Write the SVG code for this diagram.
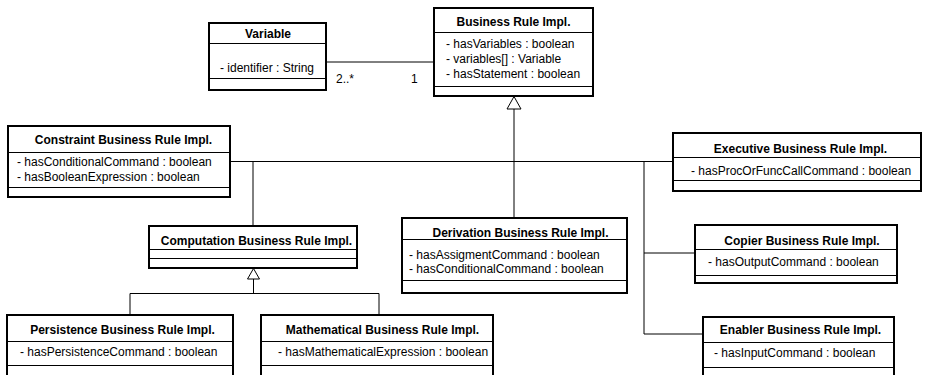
<svg xmlns="http://www.w3.org/2000/svg" width="926" height="375" viewBox="0 0 926 375">
  <style>
    .box { fill: #fff; stroke: #000; stroke-width: 2; }
    .sep { stroke: #000; stroke-width: 1; }
    .title { font-family: "Liberation Sans", Arial, sans-serif; font-size: 12px; font-weight: bold; fill: #000; text-anchor: middle; }
    .attr { font-family: "Liberation Sans", Arial, sans-serif; font-size: 12px; fill: #000; }
    .mult { font-family: "Liberation Sans", Arial, sans-serif; font-size: 12px; fill: #000; }
    .wire { fill: none; stroke: #000; stroke-width: 1; }
    .gen { fill: #fff; stroke: #000; stroke-width: 1; }
  </style>

  <!-- connectors: association and generalization tree -->
  <g id="connectors">
    <line class="wire" x1="326" y1="62" x2="434" y2="62"/>
    <text class="mult" x="336" y="83">2..*</text>
    <text class="mult" x="411" y="83">1</text>

    <!-- inheritance from Business Rule Impl. -->
    <line class="wire" x1="514" y1="109" x2="514" y2="161"/>
    <line class="wire" x1="230" y1="161.5" x2="673" y2="161.5"/>
    <line class="wire" x1="253" y1="161" x2="253" y2="226"/>
    <line class="wire" x1="514" y1="161" x2="514" y2="218"/>
    <polyline class="wire" points="644,161 644,334 703,334"/>
    <line class="wire" x1="644" y1="253" x2="695" y2="253"/>
    <polygon class="gen" points="514,96.5 507,109 521,109"/>

    <!-- inheritance from Computation Business Rule Impl. -->
    <line class="wire" x1="253.5" y1="279" x2="253.5" y2="293"/>
    <polyline class="wire" points="130,315 130,293.5 379,293.5 379,315"/>
    <polygon class="gen" points="253.5,268.5 247.5,279 259.5,279"/>
  </g>

  <g id="variable">
    <rect class="box" x="209" y="23" width="117" height="67"/>
    <line class="sep" x1="209" y1="43.5" x2="326" y2="43.5"/>
    <line class="sep" x1="209" y1="78.5" x2="326" y2="78.5"/>
    <text class="title" x="268" y="38">Variable</text>
    <text class="attr" x="220" y="72">- identifier : String</text>
  </g>

  <g id="business-rule">
    <rect class="box" x="434" y="8" width="159" height="88"/>
    <line class="sep" x1="434" y1="32.5" x2="593" y2="32.5"/>
    <line class="sep" x1="434" y1="86.5" x2="593" y2="86.5"/>
    <text class="title" x="513.5" y="26">Business Rule Impl.</text>
    <text class="attr" x="446" y="48">- hasVariables : boolean</text>
    <text class="attr" x="446" y="63">- variables[] : Variable</text>
    <text class="attr" x="446" y="78">- hasStatement : boolean</text>
  </g>

  <g id="constraint-rule">
    <rect class="box" x="8" y="126" width="222" height="71"/>
    <line class="sep" x1="8" y1="152.5" x2="230" y2="152.5"/>
    <line class="sep" x1="8" y1="187.5" x2="230" y2="187.5"/>
    <text class="title" x="123.5" y="144">Constraint Business Rule Impl.</text>
    <text class="attr" x="17" y="166">- hasConditionalCommand : boolean</text>
    <text class="attr" x="17" y="181">- hasBooleanExpression : boolean</text>
  </g>

  <g id="executive-rule">
    <rect class="box" x="673" y="133" width="248" height="58"/>
    <line class="sep" x1="673" y1="157.5" x2="921" y2="157.5"/>
    <line class="sep" x1="673" y1="180.5" x2="921" y2="180.5"/>
    <text class="title" x="800.5" y="153">Executive Business Rule Impl.</text>
    <text class="attr" x="691" y="175">- hasProcOrFuncCallCommand : boolean</text>
  </g>

  <g id="computation-rule">
    <rect class="box" x="149" y="226" width="208" height="42"/>
    <line class="sep" x1="149" y1="249.5" x2="357" y2="249.5"/>
    <line class="sep" x1="149" y1="258.5" x2="357" y2="258.5"/>
    <text class="title" x="256.5" y="245">Computation Business Rule Impl.</text>
  </g>

  <g id="derivation-rule">
    <rect class="box" x="402" y="218" width="225" height="75"/>
    <line class="sep" x1="402" y1="239.5" x2="627" y2="239.5"/>
    <line class="sep" x1="402" y1="280.5" x2="627" y2="280.5"/>
    <text class="title" x="520.5" y="237">Derivation Business Rule Impl.</text>
    <text class="attr" x="409" y="259">- hasAssigmentCommand : boolean</text>
    <text class="attr" x="409" y="273">- hasConditionalCommand : boolean</text>
  </g>

  <g id="copier-rule">
    <rect class="box" x="695" y="225" width="202" height="58"/>
    <line class="sep" x1="695" y1="249.5" x2="897" y2="249.5"/>
    <line class="sep" x1="695" y1="275.5" x2="897" y2="275.5"/>
    <text class="title" x="802" y="245">Copier Business Rule Impl.</text>
    <text class="attr" x="708" y="266">- hasOutputCommand : boolean</text>
  </g>

  <g id="enabler-rule">
    <rect class="box" x="703" y="317" width="191" height="70"/>
    <line class="sep" x1="703" y1="342.5" x2="894" y2="342.5"/>
    <line class="sep" x1="703" y1="367.5" x2="894" y2="367.5"/>
    <text class="title" x="800.5" y="334">Enabler Business Rule Impl.</text>
    <text class="attr" x="714" y="357">- hasInputCommand : boolean</text>
  </g>

  <g id="persistence-rule">
    <rect class="box" x="7" y="315" width="226" height="70"/>
    <line class="sep" x1="7" y1="341.5" x2="233" y2="341.5"/>
    <line class="sep" x1="7" y1="365.5" x2="233" y2="365.5"/>
    <text class="title" x="122.5" y="334">Persistence Business Rule Impl.</text>
    <text class="attr" x="20" y="356">- hasPersistenceCommand : boolean</text>
  </g>

  <g id="mathematical-rule">
    <rect class="box" x="261" y="315" width="232" height="70"/>
    <line class="sep" x1="261" y1="341.5" x2="493" y2="341.5"/>
    <line class="sep" x1="261" y1="365.5" x2="493" y2="365.5"/>
    <text class="title" x="382.5" y="334">Mathematical Business Rule Impl.</text>
    <text class="attr" x="278" y="356">- hasMathematicalExpression : boolean</text>
  </g>
</svg>
